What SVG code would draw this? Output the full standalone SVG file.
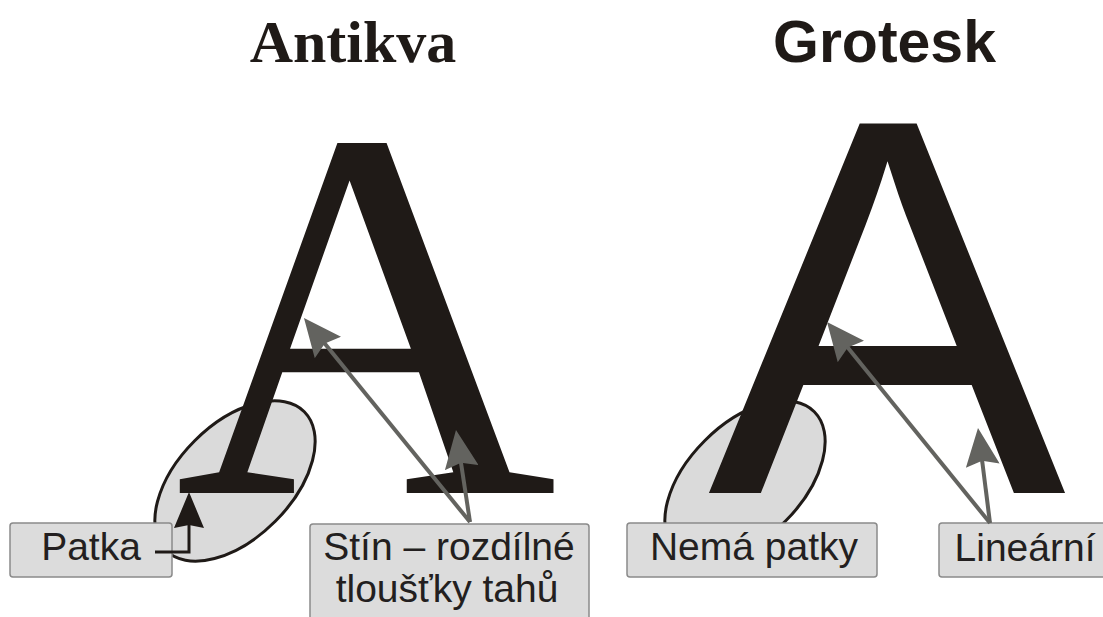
<svg xmlns="http://www.w3.org/2000/svg" width="1103" height="617" viewBox="0 0 1103 617">
<style>
.title{fill:#1f1a17;font-size:60px;font-weight:bold;text-anchor:middle}
.serif{font-family:"Liberation Serif","Times New Roman",serif}
.sans{font-family:"Liberation Sans",Arial,sans-serif}
.big{fill:#1f1a17;text-anchor:middle}
.hl{fill:#dadada;stroke:#1f1a17;stroke-width:3}
.box{fill:#dcdcdc;stroke:#8a8a8a;stroke-width:1.5}
.lbl{fill:#231f20;font-size:39px;text-anchor:middle;font-family:"Liberation Sans",Arial,sans-serif}
.gray{stroke:#63635f;stroke-width:4;fill:none;marker-end:url(#ga)}
</style>
<defs>
<marker id="ga" markerUnits="userSpaceOnUse" viewBox="0 0 38 34" markerWidth="38" markerHeight="34" refX="18" refY="17" orient="auto">
<path d="M0,0 L38,17 L0,34 L5,17 Z" fill="#63635f"/>
</marker>
<marker id="ba" markerUnits="userSpaceOnUse" viewBox="0 0 36 30" markerWidth="36" markerHeight="30" refX="16" refY="15" orient="auto">
<path d="M0,0 L36,15 L0,30 L3,15 Z" fill="#1f1a17"/>
</marker>
</defs>
<rect width="1103" height="617" fill="#ffffff"/>
<g id="title-antikva"><text class="title serif" x="353" y="62">Antikva</text></g>
<g id="title-grotesk"><text class="title sans" x="884.5" y="62" style="font-size:59px">Grotesk</text></g>
<g id="ellipse-patka"><ellipse class="hl" cx="235" cy="481" rx="98" ry="57" transform="rotate(-45 235 481)"/></g>
<g id="ellipse-nema"><ellipse class="hl" cx="745" cy="481" rx="98" ry="57" transform="rotate(-45 745 481)"/></g>
<g id="letter-antikva"><text class="big serif" x="366" y="493" font-size="530">A</text></g>
<g id="letter-grotesk"><text class="big sans" x="887" y="493" font-size="537">A</text></g>
<g id="label-patka"><rect class="box" x="10" y="523" width="162" height="54" rx="3"/><text class="lbl" x="91" y="560">Patka</text></g>
<g id="label-stin"><rect class="box" x="310" y="524" width="279" height="110" rx="3"/><text class="lbl" x="449" y="560">Stín – rozdílné</text><text class="lbl" x="447" y="602">tloušťky tahů</text></g>
<g id="label-nema"><rect class="box" x="627" y="523" width="250" height="54" rx="3"/><text class="lbl" x="754" y="560">Nemá patky</text></g>
<g id="label-linearni"><rect class="box" x="939" y="523" width="180" height="54" rx="3"/><text class="lbl" x="1025" y="561">Lineární</text></g>
<g id="connectors">
<path d="M155,552 H189 V512" stroke="#1f1a17" stroke-width="3" fill="none" marker-end="url(#ba)"/>
<line class="gray" x1="470" y1="522" x2="316.6" y2="333.5"/>
<line class="gray" x1="470" y1="522" x2="459" y2="449.8"/>
<line class="gray" x1="990" y1="523" x2="839.6" y2="337.5"/>
<line class="gray" x1="990" y1="523" x2="980.5" y2="447.8"/>
</g>
</svg>
